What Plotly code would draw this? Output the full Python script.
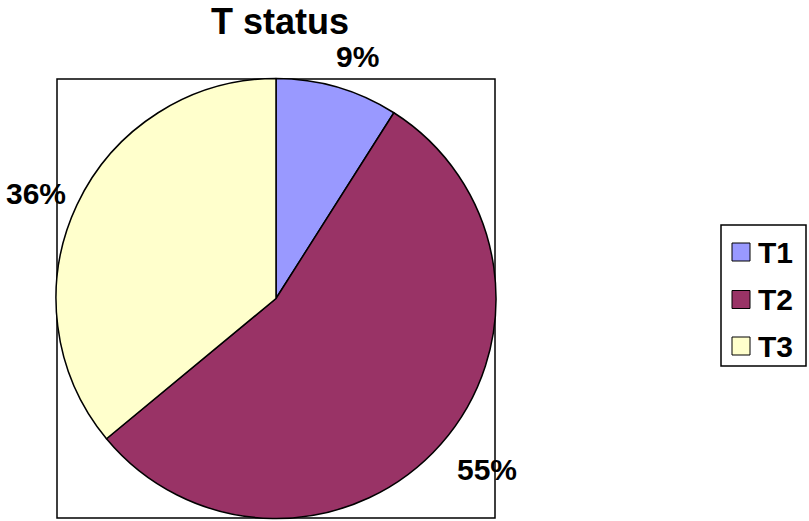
import math
import plotly.graph_objects as go

# Data
categories = ["T1", "T2", "T3"]
shares = [9, 55, 36]
colors = ["#9999FF", "#993366", "#FFFFCC"]
title_text = "T status"

W, H = 809, 521
FONT = "Liberation Sans, Arial, sans-serif"


def px(x):
    return x / W


def py(y):
    return 1 - y / H


# pie geometry in pixels
cx, cy, R = 276, 298.5, 220
# small pixel nudges (dx right, dy down) for each outside label
label_nudge = [(-8.5, 7), (-1, -6.5), (8.5, 15.5)]

fig = go.Figure(
    go.Pie(
        labels=categories,
        values=shares,
        sort=False,
        direction="clockwise",
        rotation=0,
        marker=dict(colors=colors, line=dict(color="black", width=1.5)),
        textinfo="none",
        hoverinfo="label+percent",
        showlegend=False,
        domain=dict(x=[px(cx - R), px(cx + R)], y=[py(cy + R), py(cy - R)]),
    )
)

shapes = []
annotations = []

# plot-area frame
shapes.append(dict(type="rect", xref="paper", yref="paper",
                   x0=px(57), x1=px(495), y0=py(518), y1=py(79),
                   line=dict(color="black", width=1.5), layer="below"))

# percentage labels outside each slice
total = sum(shares)
cum = 0
for v, (dx, dy) in zip(shares, label_nudge):
    mid = (cum + v / 2) / total * 2 * math.pi
    cum += v
    s, c = math.sin(mid), math.cos(mid)
    rl = R * 1.09
    x = cx + rl * s
    y = cy - rl * c
    annotations.append(dict(
        x=px(x), y=py(y), xref="paper", yref="paper", showarrow=False,
        xshift=dx, yshift=-dy,
        text=f"<b>{round(100 * v / total)}%</b>",
        xanchor="left" if s > 0 else "right",
        yanchor="bottom" if c > 0 else "top",
        font=dict(family=FONT, size=30, color="black"),
    ))

# title
annotations.append(dict(
    x=px(280), y=py(22), xref="paper", yref="paper", showarrow=False,
    text=f"<b>{title_text}</b>", xanchor="center", yanchor="middle",
    font=dict(family=FONT, size=36, color="black"),
))

# legend box
shapes.append(dict(type="rect", xref="paper", yref="paper",
                   x0=px(721), x1=px(806), y0=py(366), y1=py(225),
                   line=dict(color="black", width=1.5), fillcolor="white"))
row_y = [252, 299.5, 346]
for name, col, yc in zip(categories, colors, row_y):
    shapes.append(dict(type="rect", xref="paper", yref="paper",
                       x0=px(732), x1=px(750), y0=py(yc + 9), y1=py(yc - 9),
                       line=dict(color="black", width=1), fillcolor=col))
    annotations.append(dict(
        x=px(756), y=py(yc), xref="paper", yref="paper", showarrow=False,
        text=f"<b>{name}</b>", xanchor="left", yanchor="middle",
        font=dict(family=FONT, size=30, color="black"),
    ))

fig.update_layout(
    width=W, height=H,
    margin=dict(l=0, r=0, t=0, b=0),
    paper_bgcolor="white", plot_bgcolor="white",
    shapes=shapes, annotations=annotations,
)

fig.write_html("out.html", config={"displayModeBar": False})
